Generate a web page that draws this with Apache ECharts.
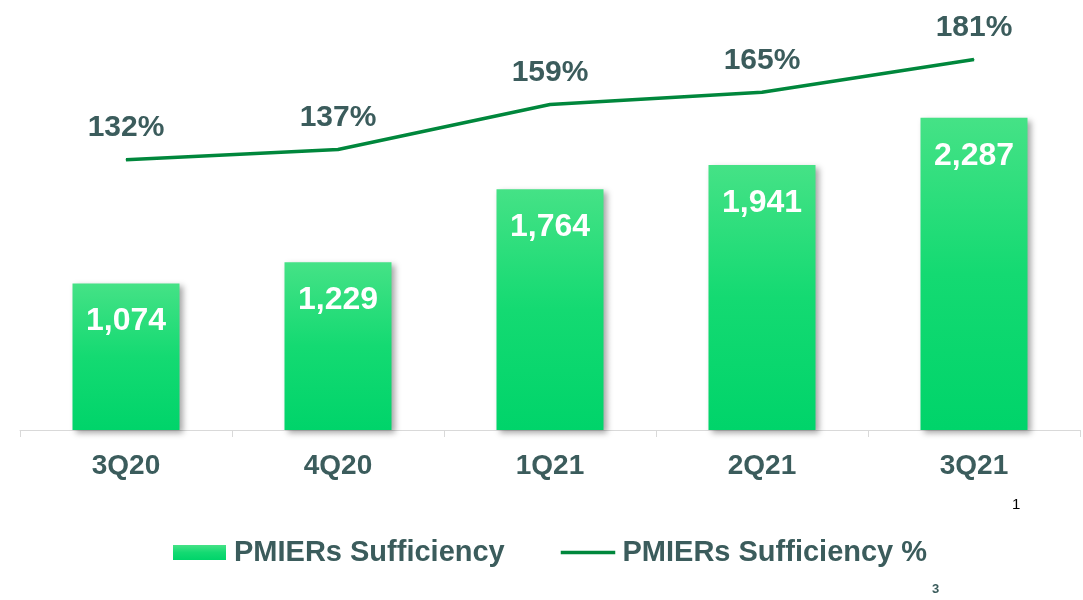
<!DOCTYPE html>
<html>
<head>
<meta charset="utf-8">
<script src="https://cdn.jsdelivr.net/npm/echarts@6/dist/echarts.min.js"></script>
<style>
html,body{margin:0;padding:0;background:#fff;}
#chart{width:1083px;height:600px;}
</style>
</head>
<body>
<div id="chart"></div>
<script>
const categories = ['3Q20', '4Q20', '1Q21', '2Q21', '3Q21'];
const sufficiency = [1074, 1229, 1764, 1941, 2287];
const sufficiencyPct = [132, 137, 159, 165, 181];
const seriesNames = ['PMIERs Sufficiency', 'PMIERs Sufficiency %'];

const textColor = '#3b5c5c';
const font = 'Arial, "Liberation Sans", sans-serif';

const chart = echarts.init(document.getElementById('chart'), null, {renderer: 'canvas'});
chart.setOption({
  animation: false,
  backgroundColor: '#ffffff',
  grid: {left: 20, right: 3, top: 20.5, bottom: 170},
  legend: {
    left: 168, top: 533,
    itemWidth: 53, itemHeight: 15, itemGap: 56,
    textStyle: {color: textColor, fontSize: 29, fontWeight: 'bold', fontFamily: font, padding: [0, 0, 0, 3]},
    data: [
      {name: seriesNames[0], icon: 'rect'},
      {name: seriesNames[1], icon: 'path://M0,0 L0.01,0 M0,5.5 L100,5.5 L100,9.5 L0,9.5 Z M0,15 L0.01,15', itemStyle: {color: '#00873c', opacity: 1, borderColor: '#00873c', borderWidth: 1.5}}
    ]
  },
  xAxis: {
    type: 'category',
    data: categories,
    axisLine: {lineStyle: {color: '#d9d9d9', width: 1}},
    axisTick: {show: true, length: 7, lineStyle: {color: '#d9d9d9'}},
    axisLabel: {color: textColor, fontSize: 28, fontWeight: 'bold', fontFamily: font, margin: 22}
  },
  yAxis: [
    {type: 'value', min: 0, max: 3000, show: false, splitLine: {show: false}},
    {type: 'value', min: 0, max: 200, show: false, splitLine: {show: false}}
  ],
  series: [
    {
      name: seriesNames[0],
      type: 'bar',
      data: sufficiency,
      barWidth: 107,
      itemStyle: {
        color: new echarts.graphic.LinearGradient(0, 0, 0, 1, [
          {offset: 0, color: '#45e286'},
          {offset: 0.5, color: '#14da72'},
          {offset: 1, color: '#00d46a'}
        ]),
        shadowBlur: 6,
        shadowOffsetX: 3,
        shadowOffsetY: 3,
        shadowColor: 'rgba(0,0,0,0.35)'
      },
      label: {
        show: true,
        position: 'insideTop',
        distance: 22,
        color: '#ffffff',
        fontSize: 32,
        fontWeight: 'bold',
        fontFamily: font,
        formatter: p => p.value.toLocaleString('en-US')
      }
    },
    {
      name: seriesNames[1],
      type: 'line',
      yAxisIndex: 1,
      data: sufficiencyPct,
      symbol: 'circle',
      symbolSize: 1,
      showSymbol: true,
      lineStyle: {color: '#00873c', width: 3.5},
      itemStyle: {color: '#00873c'},
      label: {
        show: true,
        position: 'top',
        distance: 16,
        color: textColor,
        fontSize: 30,
        fontWeight: 'bold',
        fontFamily: font,
        formatter: p => p.value + '%'
      }
    }
  ],
  graphic: [
    {type: 'text', left: 1012, top: 497, style: {text: '1', fill: '#000000', fontSize: 15, fontFamily: font}},
    {type: 'text', left: 932, top: 583, style: {text: '3', fill: textColor, fontSize: 13, fontWeight: 'bold', fontFamily: font}}
  ]
});
</script>
</body>
</html>
